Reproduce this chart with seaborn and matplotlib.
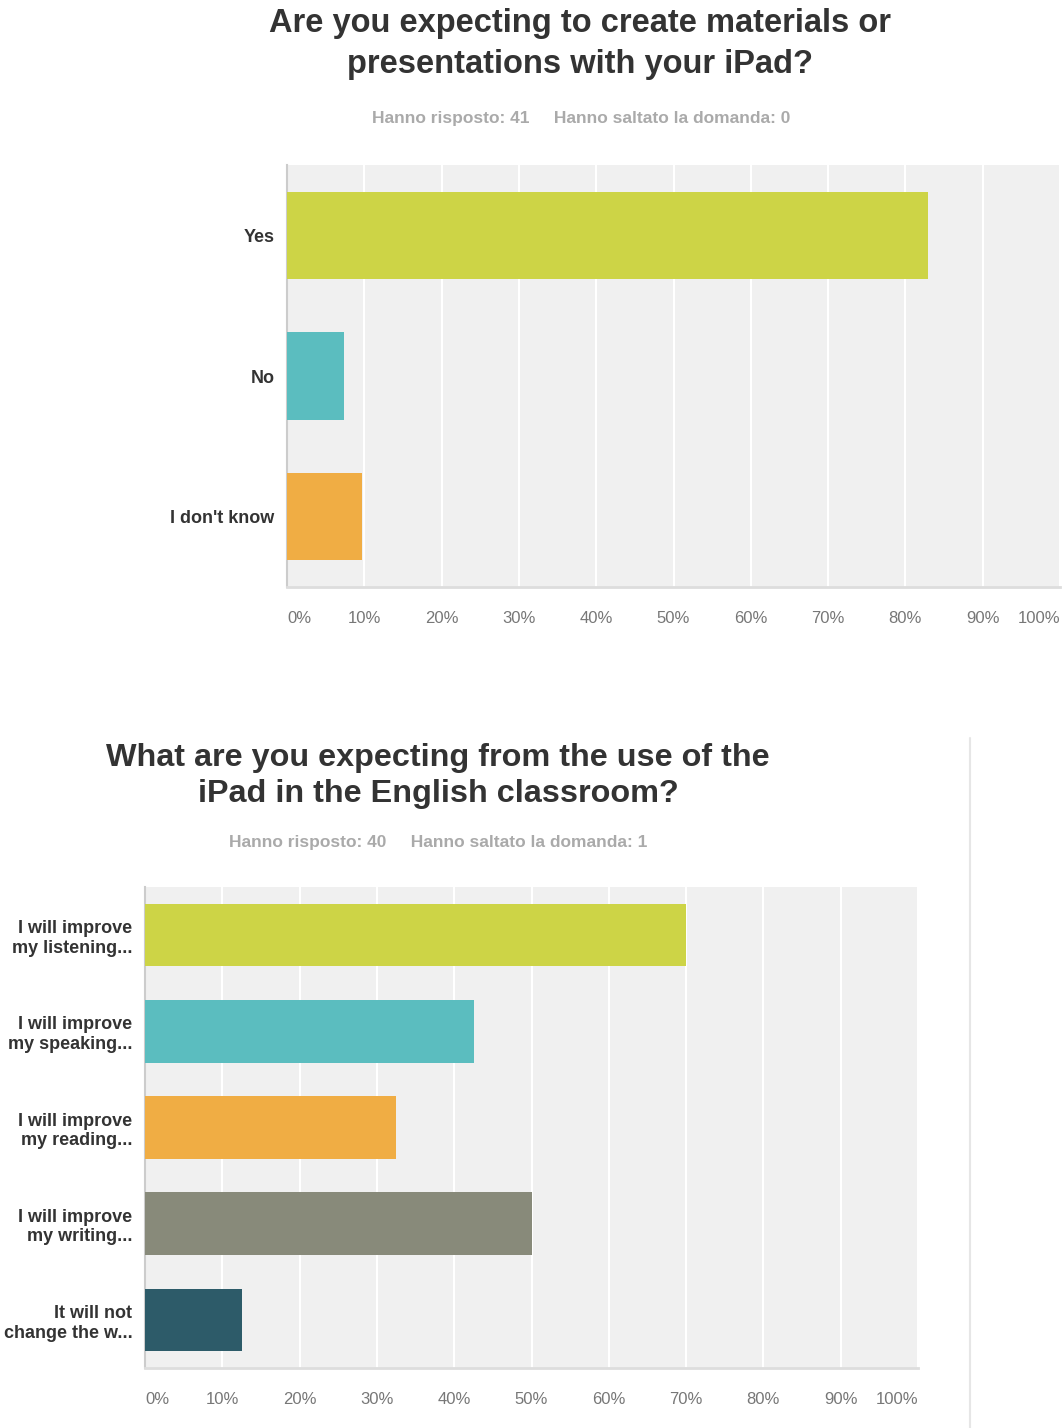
import matplotlib
matplotlib.use("Agg")
import matplotlib.pyplot as plt
import pandas as pd
import seaborn as sns

# =========================
# DATA
# =========================
q1_title = "Are you expecting to create materials or\npresentations with your iPad?"
q1_sub = "Hanno risposto: 41     Hanno saltato la domanda: 0"
q1_labels = ["Yes", "No", "I don't know"]
q1_values = [82.93, 7.32, 9.76]
q1_colors = ["#cdd446", "#5bbdbf", "#f0ad44"]

q2_title = "What are you expecting from the use of the\niPad in the English classroom?"
q2_sub = "Hanno risposto: 40     Hanno saltato la domanda: 1"
q2_labels = ["I will improve\nmy listening...", "I will improve\nmy speaking...",
             "I will improve\nmy reading...", "I will improve\nmy writing...",
             "It will not\nchange the w..."]
q2_values = [70.0, 42.5, 32.5, 50.0, 12.5]
q2_colors = ["#cdd446", "#5bbdbf", "#f0ad44", "#888a7a", "#2d5b69"]

tick_vals = list(range(0, 101, 10))
tick_labels = [f"{t}%" for t in tick_vals]

# =========================
# SETTINGS
# =========================
sns.set_style("white", {"axes.facecolor": "#f0f0f0"})
plt.rcParams["font.family"] = ["Liberation Sans", "DejaVu Sans"]

fig = plt.figure(figsize=(10.62, 14.28), dpi=100)


def draw_panel(rect, labels, values, colors, bar_width):
    ax = fig.add_axes(rect)
    df = pd.DataFrame({"label": labels, "value": values})
    sns.barplot(data=df, x="value", y="label", hue="label", palette=colors,
                order=labels, hue_order=labels, width=bar_width,
                legend=False, saturation=1, linewidth=0, ax=ax, zorder=3)
    ax.set_xlim(0, 100)
    ax.set_ylim(len(labels) - 0.5, -0.5)
    ax.set_xticks(tick_vals)
    ax.set_xticklabels(tick_labels, color="#777777", fontsize=12)
    ax.xaxis.grid(True, color="white", linewidth=1.5, zorder=1)
    ax.set_axisbelow(True)
    ax.tick_params(axis="x", length=0, pad=17)
    ax.tick_params(axis="y", length=0, pad=9)
    for lbl in ax.get_yticklabels():
        lbl.set_fontweight("bold")
        lbl.set_fontsize(13)
        lbl.set_color("#333333")
        lbl.set_horizontalalignment("right")
    xl = ax.get_xticklabels()
    xl[0].set_horizontalalignment("left")
    xl[-1].set_horizontalalignment("right")
    ax.set_xlabel("")
    ax.set_ylabel("")
    for side in ["top", "right"]:
        ax.spines[side].set_visible(False)
    ax.spines["left"].set_color("#cccccc")
    ax.spines["bottom"].set_color("#dddddd")
    ax.spines["left"].set_linewidth(1.5)
    ax.spines["bottom"].set_linewidth(2)
    return ax


# top chart
draw_panel([287 / 1062, 1 - 587 / 1428, 773 / 1062, 422 / 1428],
           q1_labels, q1_values, q1_colors, 0.62)
fig.text(580 / 1062, 1 - 44 / 1428, q1_title, ha="center", va="center",
         fontsize=23.5, fontweight="bold", color="#333333", linespacing=1.4)
fig.text(581 / 1062, 1 - 118 / 1428, q1_sub, ha="center", va="center",
         fontsize=12.5, fontweight="bold", color="#aaaaaa")

# bottom chart
draw_panel([145 / 1062, 1 - 1368 / 1428, 773 / 1062, 481 / 1428],
           q2_labels, q2_values, q2_colors, 0.65)
fig.text(438 / 1062, 1 - 776 / 1428, q2_title, ha="center", va="center",
         fontsize=23.3, fontweight="bold", color="#333333", linespacing=1.3)
fig.text(438 / 1062, 1 - 843 / 1428, q2_sub, ha="center", va="center",
         fontsize=12.5, fontweight="bold", color="#aaaaaa")

# thin divider at right of lower panel
fig.add_artist(plt.Line2D([970 / 1062, 970 / 1062], [0, 1 - 738 / 1428],
                          color="#e6e6e6", linewidth=1.5))

fig.savefig("out.png", dpi=100, facecolor="white")
